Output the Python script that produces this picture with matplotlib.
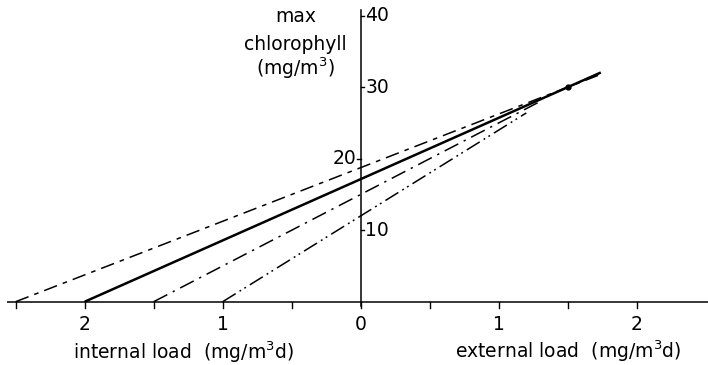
import matplotlib
matplotlib.use("Agg")
import matplotlib.pyplot as plt
import numpy as np

# Internal load (x-intercept, drawn to the left of the origin) for each scenario
internal_load = [2.5, 2.0, 1.5, 1.0]
# External load where each line stops
line_end = [1.74, 1.74, 1.30, 1.20]
# Common point that every line passes through: (external load, max chlorophyll)
pivot_load = 1.5
pivot_chl = 30.0

line_styles = [
    dict(ls=(0, (9, 4, 3, 4)), lw=1.1),
    dict(ls="-", lw=1.8),
    dict(ls=(0, (10, 4, 1.5, 4)), lw=1.1),
    dict(ls=(0, (10, 3, 1.2, 2.5, 1.2, 3)), lw=1.1),
]

x_ticks_major = [-2, -1, 0, 1, 2]
x_tick_labels = ["2", "1", "0", "1", "2"]
x_ticks_minor = [-2.5, -1.5, -0.5, 0.5, 1.5]
y_ticks = [10, 20, 30, 40]
y_tick_labels = ["10", "20", "30", "40"]
y_label_side = ["right", "left", "right", "right"]

px_x = 138.0   # pixels per load unit
px_y = 7.15    # pixels per chlorophyll unit
W, H = 708, 365
ox, oy = 360.7, 301.7  # origin in pixels from top-left

fig = plt.figure(figsize=(W / 100, H / 100), dpi=100)
ax = fig.add_axes([0, 0, 1, 1])
ax.set_xlim(-ox / px_x, (W - ox) / px_x)
ax.set_ylim((oy - H) / px_y, oy / px_y)
ax.axis("off")

font = dict(family="DejaVu Sans", color="black")
k = "black"
fs_tick = 13.5
fs_lab = 13.5

# axes
ax.plot([-2.56, (W - ox) / px_x], [0, 0], color=k, lw=1.1, solid_capstyle="butt")
ax.plot([0, 0], [-0.6, 40.8], color=k, lw=1.1)

# x ticks
for t in x_ticks_major + x_ticks_minor:
    ax.plot([t, t], [0, -0.9], color=k, lw=1.0)
for t, lab in zip(x_ticks_major, x_tick_labels):
    ax.text(t, -1.8, lab, ha="center", va="top", fontsize=fs_tick, **font)

# y ticks
tick_w = 3.5 / px_x
for t, lab, side in zip(y_ticks, y_tick_labels, y_label_side):
    if side == "right":
        ax.plot([0, tick_w], [t, t], color=k, lw=1.0)
        ax.text(tick_w + 1 / px_x, t, lab, ha="left", va="center", fontsize=fs_tick, **font)
    else:
        ax.plot([-tick_w, 0], [t, t], color=k, lw=1.0)
        ax.text(-tick_w - 1 / px_x, t, lab, ha="right", va="center", fontsize=fs_tick, **font)

# load lines through the common pivot point
for x0, x1, st in zip(internal_load, line_end, line_styles):
    slope = pivot_chl / (pivot_load + x0)
    xs = np.array([-x0, x1])
    ys = slope * (xs + x0)
    ax.plot(xs, ys, color=k, solid_capstyle="butt", dash_capstyle="butt", **st)

ax.plot([pivot_load], [pivot_chl], "o", color=k, ms=3.5)

# axis titles
ax.text(-65 / px_x, (oy - 17) / px_y, "max", ha="center", va="center", fontsize=fs_lab, **font)
ax.text(-65 / px_x, (oy - 45) / px_y, "chlorophyll", ha="center", va="center", fontsize=fs_lab, **font)
ax.text(-65 / px_x, (oy - 68) / px_y, "(mg/m$^3$)", ha="center", va="center", fontsize=fs_lab, **font)
ax.text((183 - ox) / px_x, (oy - 352) / px_y, "internal load  (mg/m$^3$d)",
        ha="center", va="center", fontsize=fs_lab, **font)
ax.text((568 - ox) / px_x, (oy - 351) / px_y, "external load  (mg/m$^3$d)",
        ha="center", va="center", fontsize=fs_lab, **font)

fig.savefig("out.png", dpi=100, facecolor="white")
